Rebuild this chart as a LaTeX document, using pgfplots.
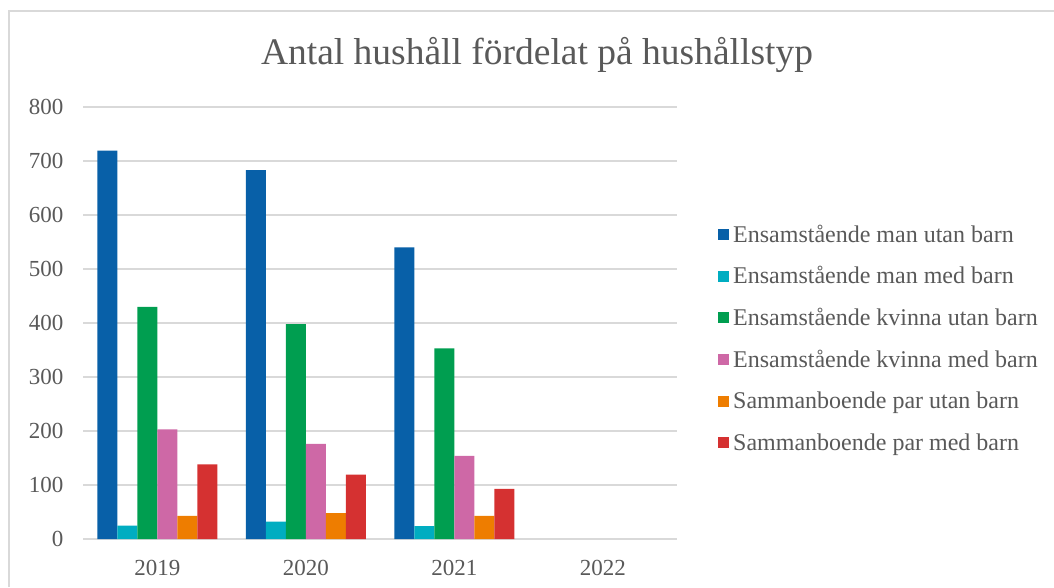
\documentclass[border=0pt]{standalone}
\usepackage{fontspec}
\setmainfont{Liberation Serif}
\usepackage{pgfplots}
\pgfplotsset{compat=1.18}
\definecolor{cblue}{HTML}{0860A8}
\definecolor{ccyan}{HTML}{00ADC1}
\definecolor{cgreen}{HTML}{009E50}
\definecolor{cpink}{HTML}{CE68A6}
\definecolor{corange}{HTML}{EE7D00}
\definecolor{cred}{HTML}{D53131}
\definecolor{textgray}{HTML}{595959}
\definecolor{gridgray}{HTML}{D9D9D9}
\begin{document}
\begin{tikzpicture}[x=1pt,y=1pt]
\path[use as bounding box] (0,0) rectangle (1054,587);
\draw[gridgray, line width=1.5pt] (9,0) -- (9,576) -- (1054,576);
\node[text=textgray, font=\fontsize{37.5}{44}\selectfont] at (537,532) {Antal hushåll fördelat på hushållstyp};
\begin{axis}[
  at={(83pt,48pt)}, anchor=south west,
  width=594pt, height=432pt, scale only axis,
  ybar=0pt, bar width=20pt,
  ymin=0, ymax=800, xmin=-0.5, xmax=3.5,
  xtick={0,1,2,3}, xticklabels={2019,2020,2021,2022},
  ytick={0,100,...,800},
  ymajorgrids, grid style={line width=1.5pt, color=gridgray},
  axis line style={draw=none},
  major tick length=0pt,
  /pgf/number format/assume math mode=true,
  ticklabel style={text=textgray, font=\fontsize{23}{27}\selectfont},
  yticklabel style={xshift=-16pt},
  xticklabel style={yshift=-18pt},
  legend style={at={(1.069,0.465)}, anchor=west, draw=none, fill=none,
    font=\fontsize{24}{28}\selectfont, text=textgray, row sep=19pt,
    inner sep=0pt, nodes={inner xsep=4pt}},
  legend cell align=left,
  legend image code/.code={\fill[#1,draw=none] (0pt,-5.5pt) rectangle (11pt,5.5pt);},
]
\addplot[fill=cblue, draw=none] coordinates {(0,719) (1,683) (2,540)};
\addplot[fill=ccyan, draw=none] coordinates {(0,25) (1,32) (2,24)};
\addplot[fill=cgreen, draw=none] coordinates {(0,430) (1,398) (2,353)};
\addplot[fill=cpink, draw=none] coordinates {(0,203) (1,176) (2,154)};
\addplot[fill=corange, draw=none] coordinates {(0,43) (1,48) (2,43)};
\addplot[fill=cred, draw=none] coordinates {(0,138) (1,119) (2,93)};
\legend{Ensamstående man utan barn, Ensamstående man med barn, Ensamstående kvinna utan barn, Ensamstående kvinna med barn, Sammanboende par utan barn, Sammanboende par med barn}
\end{axis}
\end{tikzpicture}
\end{document}
